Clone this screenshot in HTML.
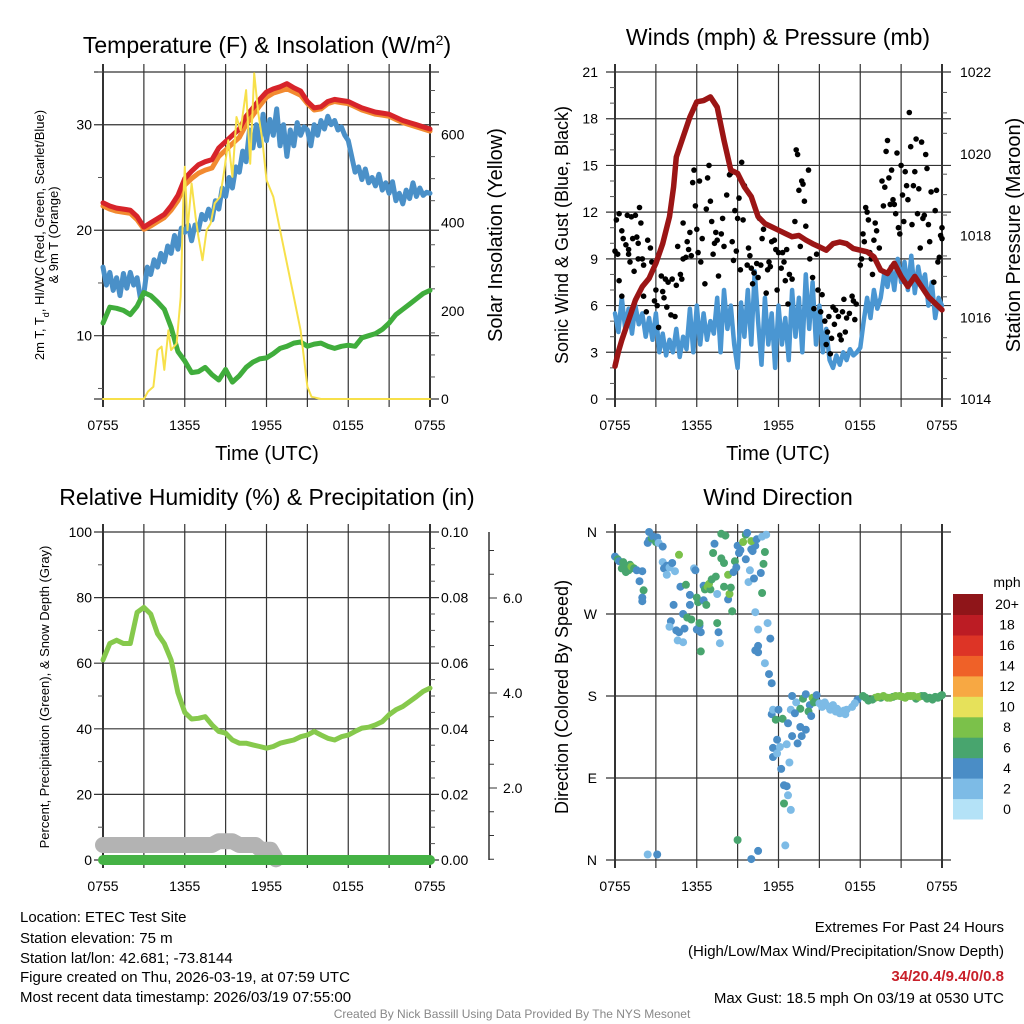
<!DOCTYPE html>
<html><head><meta charset="utf-8"><style>
html,body{margin:0;padding:0;background:#fff;}
svg{display:block;font-family:"Liberation Sans",sans-serif;}
</style></head><body>
<svg id="fig" width="1024" height="1024" viewBox="0 0 1024 1024" xmlns="http://www.w3.org/2000/svg">
<rect width="1024" height="1024" fill="#fff"/>
<g id="g1"></g>
<g id="g2"></g>
<g id="g3"></g>
<g id="g4"></g>
<g font-size="15" fill="#000">
<text x="20" y="922">Location: ETEC Test Site</text>
<text x="20" y="943">Station elevation: 75 m</text>
<text x="20" y="963">Station lat/lon: 42.681; -73.8144</text>
<text x="20" y="982">Figure created on Thu, 2026-03-19, at 07:59 UTC</text>
<text x="20" y="1002">Most recent data timestamp: 2026/03/19 07:55:00</text>
</g>
<g font-size="15" text-anchor="end">
<text x="1004" y="932">Extremes For Past 24 Hours</text>
<text x="1004" y="956">(High/Low/Max Wind/Precipitation/Snow Depth)</text>
<text x="1004" y="981" fill="#c8202a" font-weight="bold">34/20.4/9.4/0/0.8</text>
<text x="1004" y="1003">Max Gust: 18.5 mph On 03/19 at 0530 UTC</text>
</g>
<text x="512" y="1018" font-size="12" fill="#888" text-anchor="middle">Created By Nick Bassill Using Data Provided By The NYS Mesonet</text>
</svg>
<script>
// ---------- data (hours since 0755 UTC) ----------
const xTickLabels=["0755","1355","1955","0155","0755"];
const hh=[0,0.5,1,1.5,2,2.5,3,3.5,4,4.5,5,5.5,6,6.5,7,7.5,8,8.5,9,9.5,10,10.5,11,11.5,12,12.5,13,13.5,14,14.5,15,15.5,16,16.5,17,17.5,18,18.5,19,19.5,20,20.5,21,21.5,22,22.5,23,23.5,24];
const hq=[0,0.25,0.5,0.75,1,1.25,1.5,1.75,2,2.25,2.5,2.75,3,3.25,3.5,3.75,4,4.25,4.5,4.75,5,5.25,5.5,5.75,6,6.25,6.5,6.75,7,7.25,7.5,7.75,8,8.25,8.5,8.75,9,9.25,9.5,9.75,10,10.25,10.5,10.75,11,11.25,11.5,11.75,12,12.25,12.5,12.75,13,13.25,13.5,13.75,14,14.25,14.5,14.75,15,15.25,15.5,15.75,16,16.25,16.5,16.75,17,17.25,17.5,17.75,18,18.25,18.5,18.75,19,19.25,19.5,19.75,20,20.25,20.5,20.75,21,21.25,21.5,21.75,22,22.25,22.5,22.75,23,23.25,23.5,23.75,24];
const tempRed=[22.6,22.3,22.1,22.0,21.9,21.3,20.3,20.7,21.1,21.5,22.3,23.3,24.9,25.6,26.2,26.5,26.7,27.8,28.4,29.0,29.6,30.8,31.6,32.4,33.1,33.4,33.6,33.9,33.5,33.2,32.2,31.6,31.7,32.2,32.4,32.3,32.2,31.9,31.6,31.4,31.2,31.1,31.0,30.7,30.4,30.2,30.0,29.8,29.6];
const tempOrange=[22.3,22.0,21.8,21.7,21.6,21.0,20.1,20.4,20.8,21.2,21.9,22.8,24.3,24.9,25.4,25.7,25.9,27.0,27.6,28.2,28.8,30.0,30.9,31.8,32.6,33.0,33.2,33.4,33.1,32.8,32.0,31.4,31.5,32.0,32.2,32.1,32.0,31.7,31.4,31.2,31.0,30.9,30.8,30.5,30.2,30.0,29.8,29.6,29.4];
const tempBlue=[16.5,14.8,16.0,14.3,15.5,13.8,15.9,14.5,16.0,14.8,15.5,13.5,14.0,16.5,15.8,17.2,16.5,17.8,17.0,18.5,17.8,19.5,18.2,20.2,19.8,20.5,19.0,20.5,20.0,21.5,21.0,22.0,21.0,22.8,22.0,24.0,23.2,25.0,24.0,26.0,25.5,27.5,26.5,29.5,27.8,30.0,28.0,31.0,28.5,30.5,29.0,31.5,28.0,30.0,27.0,29.5,28.0,30.2,29.0,29.8,29.5,28.0,30.0,29.0,30.4,29.6,30.8,30.0,30.4,29.5,29.8,29.0,28.5,27.0,25.5,26.0,24.8,25.8,24.5,25.0,24.2,25.3,23.8,24.5,23.5,24.6,22.8,23.5,22.5,23.8,23.0,24.5,23.2,24.0,23.3,23.6,23.5];
const dewGreen=[11.2,12.7,12.6,12.4,12.0,12.8,14.1,13.8,13.2,12.5,10.8,8.5,7.6,6.5,6.6,7.0,6.3,5.8,6.8,5.6,6.2,7.0,7.5,7.8,7.9,8.3,8.8,9.0,9.3,9.4,9.0,9.2,9.3,9.0,8.8,9.0,9.1,9.0,9.8,10.0,10.2,10.6,11.2,12.0,12.5,13.0,13.5,14.0,14.3];
const solarH=[0,3.0,3.3,3.7,4.0,4.3,4.5,4.8,5.0,5.4,5.7,5.9,6.0,6.2,6.5,6.8,7.0,7.3,7.6,7.9,8.2,8.6,8.9,9.2,9.5,9.8,10.1,10.5,10.8,11.1,11.4,11.7,12.0,12.5,13.0,13.5,14.0,14.5,15.0,15.3,16,24];
const solarVals=[0,0,17,28,111,119,66,156,111,126,232,459,527,383,489,413,368,315,383,398,444,459,519,587,504,640,610,701,534,739,648,587,497,459,383,308,232,156,28,5,0,0];
const windBlue=[5.5,4.3,6.5,4.5,5.8,4.2,6.0,4.8,5.5,4.0,5.2,3.8,5.5,3.0,4.2,2.8,3.8,3.0,4.5,2.7,4.0,3.2,5.8,3.0,6.0,3.5,5.5,3.8,5.0,4.2,6.5,3.0,7.0,4.5,6.0,3.5,2.0,6.2,4.0,7.0,3.5,8.2,5.0,2.2,6.5,3.5,5.5,2.0,6.0,3.5,5.2,2.5,7.0,4.0,6.5,3.0,8.0,4.5,7.5,3.5,6.0,3.0,4.5,2.5,2.0,2.8,2.2,3.0,2.5,3.2,2.8,3.0,3.3,5.0,6.5,5.2,7.0,5.8,6.5,8.0,7.2,8.5,7.0,9.0,7.5,8.8,7.0,9.2,6.8,8.5,7.2,8.0,6.0,7.5,5.2,6.5,6.0];
const pressH=[0,0.25,0.5,1,1.5,2,2.5,3,3.5,4,4.3,4.5,5,5.5,6,6.5,7,7.5,8,8.5,9,9.5,10,10.5,11,11.5,12,12.5,13,13.5,14,14.5,15,15.5,16,16.5,17,17.5,18,18.5,19,19.5,20,20.5,21,21.5,22,22.5,23,23.5,24];
const pressVals=[1014.8,1015.16,1015.44,1015.93,1016.42,1016.75,1016.95,1017.32,1017.8,1018.46,1019.19,1019.92,1020.41,1020.9,1021.27,1021.3,1021.39,1021.14,1020.33,1019.6,1019.52,1019.19,1018.95,1018.46,1018.29,1018.21,1018.13,1018.05,1017.97,1018.0,1017.89,1017.8,1017.72,1017.64,1017.8,1017.84,1017.8,1017.68,1017.64,1017.6,1017.48,1017.15,1017.07,1017.32,1017.0,1016.75,1017.0,1016.75,1016.5,1016.34,1016.18];
const gustH=[0.0,0.1,0.2,0.3,0.3,0.5,0.6,0.5,0.8,0.9,1.0,1.0,1.1,1.2,1.3,1.4,1.5,1.6,1.7,1.7,1.8,1.9,2.0,2.1,2.1,2.3,2.4,2.6,2.7,2.9,3.0,3.1,3.2,3.4,3.5,3.6,3.7,3.8,3.9,4.1,4.2,4.4,4.5,4.6,4.8,4.9,5.0,5.0,5.2,5.3,5.4,5.5,5.6,5.7,5.8,5.9,6.0,6.1,6.2,6.3,6.4,6.6,6.7,6.8,6.9,7.0,7.1,7.2,7.3,7.4,7.5,7.6,7.8,7.9,8.0,8.2,8.4,8.5,8.6,8.7,8.8,8.9,9.0,9.1,9.2,9.3,9.4,9.5,9.7,9.8,9.9,10.0,10.1,10.2,10.4,10.5,10.6,10.7,10.8,10.9,11.1,11.2,11.3,11.4,11.5,11.7,11.8,11.9,12.0,12.2,12.3,12.4,12.5,12.6,12.7,12.8,13.0,13.2,13.3,13.4,13.5,13.6,13.7,13.8,13.9,14.0,14.2,14.3,14.5,14.6,14.8,14.9,15.1,15.2,15.4,15.5,15.6,15.7,15.8,15.9,16.0,16.1,16.2,16.4,16.5,16.6,16.7,16.8,16.9,17.0,17.2,17.4,17.5,17.6,17.7,18.0,18.1,18.2,18.3,18.4,18.5,18.6,18.7,18.8,18.9,19.0,19.1,19.2,19.4,19.6,19.7,19.8,19.9,20.0,20.1,20.2,20.3,20.4,20.5,20.6,20.7,20.8,20.9,21.0,21.1,21.2,21.3,21.4,21.5,21.6,21.7,21.8,21.9,22.0,22.1,22.2,22.3,22.4,22.5,22.6,22.7,22.8,22.9,23.0,23.1,23.2,23.4,23.5,23.6,23.7,23.8,23.9,24.0,24.0];
const gustVals=[9.5,11.5,9.3,7.6,11.9,10.8,10.3,6.6,9.9,11.8,9.6,9.3,8.8,11.7,10.3,8.2,11.8,10.4,9.0,10.0,12.3,11.3,9.0,8.6,6.6,5.6,10.2,9.7,8.8,6.3,7.0,6.0,4.6,7.9,6.9,6.5,7.7,5.9,7.5,5.4,7.7,5.3,7.3,9.8,8.0,7.7,11.3,9.0,9.1,10.1,9.6,10.7,9.2,13.9,14.7,12.4,10.9,9.4,14.0,8.8,10.3,7.4,12.2,14.2,15.0,12.7,11.4,9.3,10.0,10.7,10.2,7.9,10.6,11.6,9.8,13.1,14.4,14.5,10.1,8.9,12.1,9.5,11.6,12.9,8.3,15.2,11.5,13.7,8.6,9.7,9.2,8.4,7.4,8.1,8.7,7.8,11.6,8.6,10.3,10.9,6.8,8.3,8.8,8.5,10.1,10.2,9.6,7.0,9.4,8.4,9.4,8.8,7.6,9.6,6.1,8.0,7.7,11.4,16.0,15.7,13.4,9.8,14.0,13.8,12.7,11.1,14.7,9.0,7.8,5.8,9.3,7.0,5.6,6.7,5.0,3.5,4.3,5.3,2.9,3.9,5.9,4.8,5.7,5.3,4.1,3.8,5.6,6.4,4.3,5.2,5.5,6.6,6.3,5.1,6.1,8.6,9.0,10.6,10.1,12.3,12.0,11.5,9.4,9.0,8.0,10.2,11.3,10.8,9.7,14.0,12.4,13.6,15.9,16.6,14.2,12.5,14.7,12.8,12.5,11.9,15.8,11.0,10.6,15.0,13.1,11.4,14.6,13.7,12.8,18.4,16.2,11.2,13.7,14.6,16.7,11.9,13.5,9.7,16.5,11.6,11.8,15.7,14.8,11.2,10.1,13.3,7.5,12.1,13.4,8.8,9.1,10.5,11.0,10.3];
const rhVals=[61,66,67,66,66,75.5,77,75,69,66,61,51,45,43,43.2,43.7,41.2,39.2,38.7,36.6,35.6,35.6,35.1,34.6,34.1,34.6,35.6,36.1,36.6,37.6,38.1,39.2,38.1,37.1,36.6,37.6,38.1,39.2,40.2,40.5,41.2,42.2,44.3,45.8,46.8,48.3,49.8,51.4,52.4];
const precipH=[0,24];
const precipVals=[0,0];
const snowH=[0,8.0,8.5,9.5,10.0,11.2,11.6,12.3,12.7];
const snowVals=[0.8,0.8,0.88,0.88,0.8,0.8,0.7,0.7,0.5];
const dirH=[0,0.2,0.3,0.5,0.6,0.7,0.8,1.0,1.1,1.2,1.4,1.6,1.8,2.1,2.0,2.0,2.0,2.4,2.5,2.5,2.7,2.8,3.0,3.1,3.2,3.5,3.5,3.6,3.8,3.8,4.0,4.2,4.4,4.8,4.7,4.3,4.1,4.0,4.5,4.6,4.7,5.0,5.1,5.0,5.2,5.5,5.5,5.3,5.6,5.8,5.9,6.0,6.2,6.0,6.1,6.2,6.3,6.3,6.5,6.5,6.6,6.7,6.8,7.0,6.9,7.1,7.2,7.3,7.4,7.5,7.5,7.6,7.7,7.8,7.8,8.0,8.0,8.3,8.1,8.3,8.4,8.5,8.6,8.7,8.8,8.9,9.1,9.0,9.2,9.4,9.6,9.7,9.6,9.9,9.8,10.0,10.1,10.3,10.3,10.2,10.5,10.5,10.5,10.3,10.0,10.4,10.8,11.0,11.1,10.7,10.9,10.8,11.2,11.4,11.5,11.0,11.3,11.5,11.6,11.8,11.9,11.6,11.6,11.9,12.1,12.0,12.3,12.2,12.4,12.4,12.6,12.7,12.9,12.6,12.7,13.0,13.3,13.6,13.8,14.0,14.3,14.2,14.5,14.6,14.0,13.6,13.2,13.0,13.4,12.8,12.9,13.7,14.4,14.7,14.8,15.0,15.5,15.8,16.3,16.8,17.4,17.8,18.2,18.6,19.1,19.5,20.0,20.4,20.9,21.3,21.7,22.1,22.5,22.9,23.3,23.7,24.0,2.4,3.1,9.0,10.0,10.5,12.5,15.2,15.7,16.0,16.5,17.0,17.6,18.4,18.9,19.3,19.7,20.2,20.6,21.1,21.5,21.9,22.3,22.7,23.1,23.5,23.9,16.2,15.4,16.9];
const dirDeg=[333,330,328,320,327,324,316,318,324,322,320,318,306,296,317,284,288,348,351,360,353,355,349,354,348,344,327,320,323,313,321,326,317,300,335,280,262,256,252,241,250,270,254,239,302,291,280,266,264,320,318,288,257,253,283,260,250,229,301,285,297,280,300,297,303,308,337,347,311,292,260,250,238,331,358,326,300,286,356,313,292,299,273,316,328,321,337,345,340,349,357,359,330,318,305,341,339,345,272,309,253,235,228,230,350,352,355,338,357,315,325,293,260,243,194,216,204,160,165,154,132,123,113,117,124,165,155,100,82,62,127,150,165,81,71,180,173,166,177,182,170,163,178,173,143,146,161,136,128,107,55,136,158,175,181,172,170,165,166,164,168,176,180,175,178,178,178,179,180,178,180,177,180,177,176,178,181,6,6,22,1,10,16,168,168,170,161,165,172,178,176,179,180,178,180,179,180,180,179,180,178,179,180,163,173,160];
const dirSpd=[4,6,4,6,6,6,6,6,6,8,6,4,4,6,4,4,4,4,4,4,6,4,6,4,2,4,2,4,4,2,2,4,2,4,8,4,4,2,4,2,4,4,4,2,6,4,4,6,6,2,4,6,4,4,6,6,4,6,4,4,6,6,8,6,8,6,6,4,6,2,6,4,2,6,6,6,6,4,6,8,8,6,6,4,6,4,4,4,4,8,6,4,4,2,2,4,4,4,2,4,2,4,4,4,8,4,2,6,2,4,6,6,2,4,4,2,4,4,2,6,4,4,4,2,2,4,6,4,4,6,2,4,2,4,2,4,2,6,6,4,4,6,8,6,4,4,4,4,4,2,2,4,4,6,4,2,2,2,2,2,2,4,6,6,8,6,8,6,8,8,8,6,6,6,6,6,6,2,4,6,4,4,2,2,2,2,2,2,2,6,6,8,8,8,8,8,8,8,8,6,6,6,6,2,2,2];
const speedBandLabels=["0","2","4","6","8","10","12","14","16","18","20+"];
const speedBandColors=["#b4e2f7","#7dbbe6","#4a8dc6","#48a56e","#7bc14a","#e6e15a","#f7a843","#ef6128","#dd3426","#bc1c24","#8f1519"];

// ---------- helpers ----------
const NS="http://www.w3.org/2000/svg";
function mk(parent,tag,attrs){const e=document.createElementNS(NS,tag);for(const k in attrs)e.setAttribute(k,attrs[k]);parent.appendChild(e);return e;}
function txt(parent,x,y,s,size,anchor,extra){const t=mk(parent,"text",Object.assign({x:x,y:y,"font-size":size,"text-anchor":anchor||"middle"},extra||{}));t.textContent=s;return t;}
function lin(d0,d1,r0,r1){return v=>r0+(v-d0)*(r1-r0)/(d1-d0);}
function path(xs,ys,fx,fy){return xs.map((h,i)=>(i?"L":"M")+fx(h).toFixed(1)+","+fy(ys[i]).toFixed(1)).join("");}

function frame(g,L,R,T,B,hLines,minorY,minorYR){
  for(let i=0;i<=8;i++){const x=L+(R-L)*i/8;
    const l=mk(g,"line",{x1:x,x2:x,y1:T-8,y2:B+8,stroke:"#333","stroke-width":(i==0||i==8)?2:1.2});
    
    }
  hLines.forEach(y=>{const l=mk(g,"line",{x1:L-9,x2:R+9,y1:y,y2:y,stroke:"#333","stroke-width":1.2});
    
    });
  (minorY||[]).forEach(y=>{const l=mk(g,"line",{x1:L-5,x2:L,y1:y,y2:y,stroke:"#555","stroke-width":1});
    
    });
  (minorYR||[]).forEach(y=>{const l=mk(g,"line",{x1:R,x2:R+5,y1:y,y2:y,stroke:"#555","stroke-width":1});
    
    });
}
function xlabels(g,L,R,y){xTickLabels.forEach((s,i)=>{const t=txt(g,L+(R-L)*i/4,y,s,14);
  
  });}
function addLine(g,d,color,w,name){const p=mk(g,"path",{d:d,fill:"none",stroke:color,"stroke-width":w,"stroke-linejoin":"round","stroke-linecap":"round"});
  
  return p;}

// ---------- panel 1 ----------
(function(){
  const g=document.getElementById("g1");const L=103,R=430,T=72,B=399;
  const fx=lin(0,24,L,R), fy=lin(4,35,B,T), fs=lin(0,742,B,T);
  frame(g,L,R,T,B,[10,20,30].map(fy).concat([T,B]),[5,15,25,35].map(fy),[100,300,500,700,50,150,250,350,450,550,650].map(fs));
  addLine(g,path(hq,tempBlue,fx,fy),"#4a90c8",5,"wind-chill-line");
  addLine(g,path(hh,dewGreen,fx,fy),"#40ad3c",5,"dewpoint-line");
  addLine(g,path(hh,tempOrange,fx,fy),"#f28a30",5,"temp-9m-line");
  addLine(g,path(hh,tempRed,fx,fy),"#d7242a",5,"temp-2m-line");
  addLine(g,path(solarH,solarVals,fx,fs),"#f7e04a",2,"insolation-line");
  [10,20,30].forEach(v=>{const t=txt(g,92,fy(v)+5,String(v),14,"end");});
  [0,200,400,600].forEach(v=>{const t=txt(g,441,fs(v)+5,String(v),14,"start");});
  xlabels(g,L,R,430);
  txt(g,267,460,"Time (UTC)",20,"middle",{});
  const ti=txt(g,267,53,"Temperature (F) & Insolation (W/m",23,"middle",{});
  const sup=mk(ti,"tspan",{"baseline-shift":"super","font-size":14});sup.textContent="2";
  const t2=mk(ti,"tspan",{});t2.textContent=")";
  const yl=mk(g,"text",{transform:"translate(44,235) rotate(-90)","font-size":13,"text-anchor":"middle",});
  yl.innerHTML='2m T, T<tspan baseline-shift="sub" font-size="9">d</tspan>, HI/WC (Red, Green, Scarlet/Blue)';
  txt(g,0,0,"& 9m T (Orange)",13,"middle",{transform:"translate(58,235) rotate(-90)",});
  txt(g,0,0,"Solar Insolation (Yellow)",20,"middle",{transform:"translate(502,235) rotate(-90)",});
})();

// ---------- panel 2 ----------
(function(){
  const g=document.getElementById("g2");const L=615,R=942,T=72,B=399;
  const fx=lin(0,24,L,R), fy=lin(0,21,B,T), fp=lin(1014,1022,B,T);
  const minL=[];for(let v=1;v<21;v++)if(v%3)minL.push(fy(v));
  const minR=[];for(let v=1014.5;v<1022;v+=0.5)if(v%2)minR.push(fp(v));
  frame(g,L,R,T,B,[0,3,6,9,12,15,18,21].map(fy),minL,minR);
  addLine(g,path(hq,windBlue,fx,fy),"#4a96d2",4.5,"sonic-wind-line");
  gustH.forEach((h,i)=>{const c=mk(g,"circle",{cx:fx(h).toFixed(1),cy:fy(gustVals[i]).toFixed(1),r:2.8,fill:"#000"});
    
    });
  addLine(g,path(pressH,pressVals,fx,fp),"#9b1515",5.5,"pressure-line");
  [0,3,6,9,12,15,18,21].forEach(v=>{const t=txt(g,598,fy(v)+5,String(v),14,"end");});
  [1014,1016,1018,1020,1022].forEach(v=>{const t=txt(g,960,fp(v)+5,String(v),14,"start");});
  xlabels(g,L,R,430);
  txt(g,778,460,"Time (UTC)",20,"middle",{});
  txt(g,778,45,"Winds (mph) & Pressure (mb)",23,"middle",{});
  txt(g,0,0,"Sonic Wind & Gust (Blue, Black)",18,"middle",{transform:"translate(568,235) rotate(-90)",});
  txt(g,0,0,"Station Pressure (Maroon)",20,"middle",{transform:"translate(1020,235) rotate(-90)",});
})();

// ---------- panel 3 ----------
(function(){
  const g=document.getElementById("g3");const L=103,R=430,T=532,B=860;
  const fx=lin(0,24,L,R), fy=lin(0,100,B,T), fpr=lin(0,0.1,B,T), fsn=lin(0,6,883,598);
  const minL=[10,30,50,70,90].map(fy);const minR=[];for(let v=0.005;v<0.1;v+=0.005)if(Math.round(v*1000)%20)minR.push(fpr(v));
  frame(g,L,R,T,B,[0,20,40,60,80,100].map(fy),minL,minR);
  addLine(g,path(snowH,snowVals,fx,fsn),"#b3b3b3",16,"snow-depth-line");
  addLine(g,path(precipH,precipVals,fx,fpr),"#45b245",10,"precipitation-line");
  addLine(g,path(hh,rhVals,fx,fy),"#86c94c",5,"humidity-line");
  mk(g,"line",{x1:489,x2:489,y1:532,y2:860,stroke:"#333","stroke-width":1.5,});
  for(let v=0.5;v<=7;v+=0.5){const y=fsn(v);if(y<532||y>860)continue;const major=(v%2===0);
    const l=mk(g,"line",{x1:489,x2:major?497:494,y1:y,y2:y,stroke:"#333","stroke-width":1});
    
    }
  [2,4,6].forEach(v=>{const t=txt(g,503,fsn(v)+5,v.toFixed(1),14,"start");});
  [0,20,40,60,80,100].forEach(v=>{const t=txt(g,92,fy(v)+5,String(v),14,"end");});
  [0,0.02,0.04,0.06,0.08,0.1].forEach(v=>{const t=txt(g,441,fpr(v)+5,v.toFixed(2),14,"start");});
  xlabels(g,L,R,891);
  txt(g,267,505,"Relative Humidity (%) & Precipitation (in)",23,"middle",{});
  txt(g,0,0,"Percent, Precipitation (Green), & Snow Depth (Gray)",13,"middle",{transform:"translate(49,697) rotate(-90)",});
})();

// ---------- panel 4 ----------
(function(){
  const g=document.getElementById("g4");const L=615,R=942,T=532,B=860;
  const fx=lin(0,24,L,R), fy=lin(0,360,B,T);
  frame(g,L,R,T,B,[0,90,180,270,360].map(fy),[],[]);
  dirH.forEach((h,i)=>{const band=Math.min(10,Math.floor(dirSpd[i]/2));
    const c=mk(g,"circle",{cx:fx(h).toFixed(1),cy:fy(dirDeg[i]).toFixed(1),r:4,fill:speedBandColors[band]});
    
    });
  [["N",360],["W",270],["S",180],["E",90],["N",0]].forEach(p=>{const t=txt(g,597,fy(p[1])+5,p[0],14,"end");});
  xlabels(g,L,R,891);
  txt(g,778,505,"Wind Direction",23,"middle",{});
  txt(g,0,0,"Direction (Colored By Speed)",18,"middle",{transform:"translate(568,697) rotate(-90)",});
  const cb=mk(g,"g",{});
  const bh=(819-594)/11;
  speedBandColors.forEach((col,i)=>{const y=819-(i+1)*bh;
    const r=mk(cb,"rect",{x:953,y:y.toFixed(1),width:30,height:(bh+0.5).toFixed(1),fill:col});
    
    
    const t=txt(cb,1007,y+bh/2+5,speedBandLabels[i],14);
    
    });
  txt(cb,1007,587,"mph",14,"middle",{});
})();
</script>
</body></html>
